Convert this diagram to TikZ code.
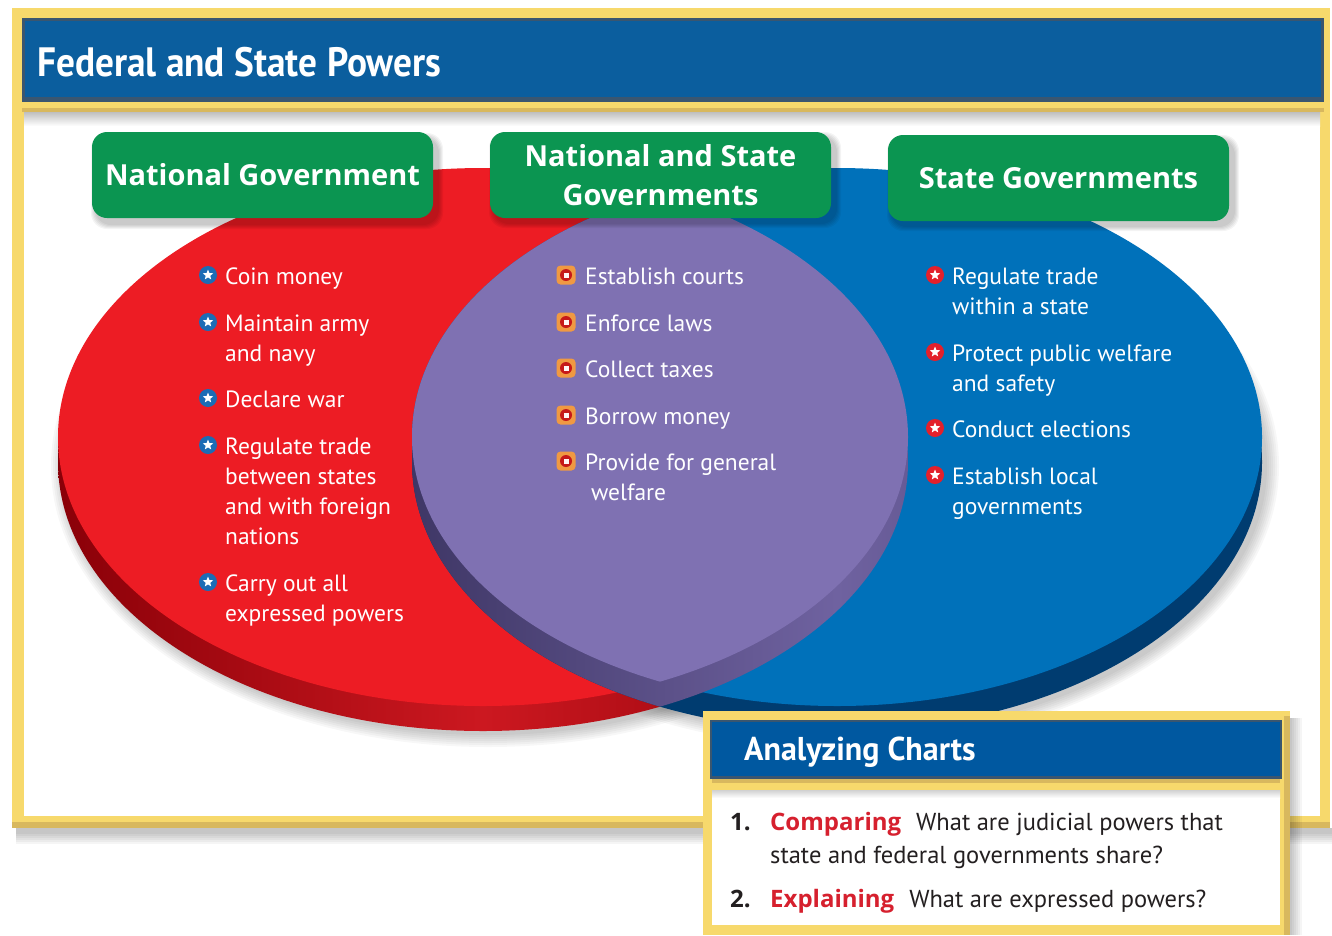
\documentclass[tikz,border=0pt]{standalone}
\usepackage{fontspec}
\setmainfont{PT Sans}
\newfontfamily\condfont[FakeStretch=0.91]{PT Sans}
\newfontfamily\condfontb[FakeStretch=0.97]{PT Sans}
\newfontfamily\hfont{Open Sans}
\usetikzlibrary{shapes.geometric}
\definecolor{gold}{HTML}{F7D96C}
\definecolor{golddark}{HTML}{D8B85E}
\definecolor{titleblue}{HTML}{0B5E9E}
\definecolor{titleedge}{HTML}{3A5670}
\definecolor{ellred}{HTML}{ED1C24}
\definecolor{redside}{HTML}{8A0008}
\definecolor{redmid}{HTML}{CC1820}
\definecolor{ellblue}{HTML}{0071BA}
\definecolor{blueside}{HTML}{003C70}
\definecolor{lens}{HTML}{7F71B2}
\definecolor{lensside}{HTML}{3F3766}
\definecolor{lensmid}{HTML}{6F62A0}
\definecolor{hgreen}{HTML}{0B9551}
\definecolor{dotblue}{HTML}{1C6CB5}
\definecolor{dotred}{HTML}{E3202B}
\definecolor{askblue}{HTML}{0058A0}
\definecolor{qred}{HTML}{D6202E}
\definecolor{qtext}{HTML}{231F20}
\tikzset{
  gbox/.style={fill=hgreen, rounded corners=15pt, text=white, inner sep=0pt,
    minimum width=341pt, minimum height=86pt, align=center,
    font=\hfont\bfseries\fontsize{29}{39}\selectfont},
  item/.style={anchor=base west, inner sep=0pt, text=white, align=left,
    font=\fontsize{23.5}{30}\selectfont},
  bdot/.style={circle, fill=dotblue, inner sep=0pt, minimum size=18pt},
  rdot/.style={circle, fill=dotred, inner sep=0pt, minimum size=18pt},
  wstar/.style={star, star points=5, star point ratio=2.3, fill=white, inner sep=0pt, minimum size=11pt},
  lensicon/.style={rounded corners=4pt, fill=orange!70!brown!80, inner sep=0pt, minimum size=19pt},
  lensin/.style={circle, fill=red!75!black!90, inner sep=0pt, minimum size=12pt},
  lensc/.style={fill=white!85!pink, inner sep=0pt, minimum size=5pt},
  qnode/.style={anchor=base west, inner sep=0pt, text=qtext, font=\fontsize{24.5}{33}\selectfont},
}
\newcommand{\qb}[1]{{\hfont\bfseries\fontsize{24}{33}\selectfont #1}}
\newcommand{\bbul}[2]{\node[bdot] (#1) at (#2) {}; \node[wstar] (#1s) at (#2) {};}
\newcommand{\rbul}[2]{\node[rdot] (#1) at (#2) {}; \node[wstar] (#1s) at (#2) {};}
\newcommand{\lbul}[2]{\node[lensicon] (#1) at (#2) {}; \node[lensin] (#1i) at (#2) {}; \node[lensc] (#1c) at (#2) {};}
\begin{document}
\begin{tikzpicture}[x=1pt,y=-1pt]
\useasboundingbox (0,0) rectangle (1332,935);
\fill[white] (0,0) rectangle (1332,935);
% main frame shadow
\foreach \i in {0,...,5} { \fill[black,opacity=0.04] (16,828) rectangle (1332,834+2*\i); }
% main frame
\fill[gold] (12,8) rectangle (1330,828);
\fill[golddark] (12,822) rectangle (1330,828);
\fill[white] (24,112) rectangle (1320,816);
\shade[top color=black!25, bottom color=white] (24,112) rectangle (1320,126);
\fill[golddark] (22,108) rectangle (1324,112);
% title bar
\fill[titleedge] (22,18) rectangle (1324,102);
\fill[titleblue] (25,21) rectangle (1321,97);
\node[anchor=base west, inner sep=0pt, text=white, font=\condfont\bfseries\fontsize{41}{41}\selectfont] (title) at (37,76) {Federal and State Powers};
% ellipse shadows
\foreach \i in {0,...,6} {
  \fill[black,opacity=0.03] (488,466) ellipse [x radius=425+2*\i, y radius=269+2*\i];
  \fill[black,opacity=0.03] (842,466) ellipse [x radius=425+2*\i, y radius=269+2*\i];
}
% red ellipse
\shade[left color=redside, right color=redside, middle color=redmid] (483,462) ellipse [x radius=425, y radius=269];
\fill[ellred] (483,437) ellipse [x radius=425, y radius=269];
% blue ellipse
\fill[blueside] (837,462) ellipse [x radius=425, y radius=269];
\fill[ellblue] (837,437) ellipse [x radius=425, y radius=269];
% lens side
\begin{scope}
  \clip (483,462) ellipse [x radius=425, y radius=269];
  \shade[left color=lensside, right color=lensside, middle color=lensmid] (837,462) ellipse [x radius=425, y radius=269];
\end{scope}
% lens top
\begin{scope}
  \clip (483,437) ellipse [x radius=425, y radius=269];
  \fill[lens] (837,437) ellipse [x radius=425, y radius=269];
\end{scope}
% header shadows
\foreach \xa/\ya/\xb/\yb in {92/132/433/218, 490/131/831/217, 888/134/1229/220} {
  \foreach \i in {1,...,5} {
    \fill[black,opacity=0.045,rounded corners=16pt] (\xa+4-\i,\ya+6-\i) rectangle (\xb+5+\i,\yb+6+\i);
  }
}
% headers
\node[gbox] (natgov) at (262.5,175) {National Government};
\node[gbox] (both) at (660.5,175) {National and State\\Governments};
\node[gbox] (stategov) at (1058.5,178) {State Governments};
% national items (anchor = baseline of last line)
\bbul{b1}{208,275} \node[item] (t1) at (225,284) {Coin money};
\bbul{b2}{208,322} \node[item] (t2) at (225,361) {Maintain army\\and navy};
\bbul{b3}{208,398} \node[item] (t3) at (225,407) {Declare war};
\bbul{b4}{208,445} \node[item] (t4) at (225,544) {Regulate trade\\between states\\and with foreign\\nations};
\bbul{b5}{208,582} \node[item] (t5) at (225,621) {Carry out all\\expressed powers};
% shared items
\lbul{l1}{566,275} \node[item] (s1) at (585,284) {Establish courts};
\lbul{l2}{566,322} \node[item] (s2) at (585,331) {Enforce laws};
\lbul{l3}{566,368} \node[item] (s3) at (585,377) {Collect taxes};
\lbul{l4}{566,415} \node[item] (s4) at (585,424) {Borrow money};
\lbul{l5}{566,461} \node[item] (s5) at (585,500) {Provide for general\\\hspace{6pt}welfare};
% state items
\rbul{r1}{935,275} \node[item] (u1) at (952,314) {Regulate trade\\within a state};
\rbul{r2}{935,352} \node[item] (u2) at (952,391) {Protect public welfare\\and safety};
\rbul{r3}{935,428} \node[item] (u3) at (952,437) {Conduct elections};
\rbul{r4}{935,475} \node[item] (u4) at (952,514) {Establish local\\governments};
% analyzing box
\foreach \i in {0,...,5} { \fill[black,opacity=0.04] (1290,718) rectangle (1292+2*\i,935); }
\fill[gold] (703,711) rectangle (1290,935);
\fill[golddark] (1284,716) rectangle (1290,935);
\fill[titleedge] (710,720) rectangle (1282,779);
\fill[askblue] (712,722) rectangle (1280,776);
\fill[golddark] (712,779) rectangle (1280,783);
\fill[white] (712,790) rectangle (1280,925);
\shade[top color=black!18, bottom color=white] (712,790) rectangle (1280,798);
\node[anchor=base west, inner sep=0pt, text=white, font=\condfontb\bfseries\fontsize{33}{33}\selectfont] (ask) at (744,760) {Analyzing Charts};
\node[qnode] (q1) at (730,830) {\qb{1.}};
\node[qnode] (q1a) at (770,830) {\textcolor{qred}{\qb{Comparing}}\hspace{15pt}What are judicial powers that};
\node[qnode] (q1b) at (770,863) {state and federal governments share?};
\node[qnode] (q2) at (730,907) {\qb{2.}};
\node[qnode] (q2a) at (770,907) {\textcolor{qred}{\qb{Explaining}}\hspace{15pt}What are expressed powers?};
\end{tikzpicture}
\end{document}
